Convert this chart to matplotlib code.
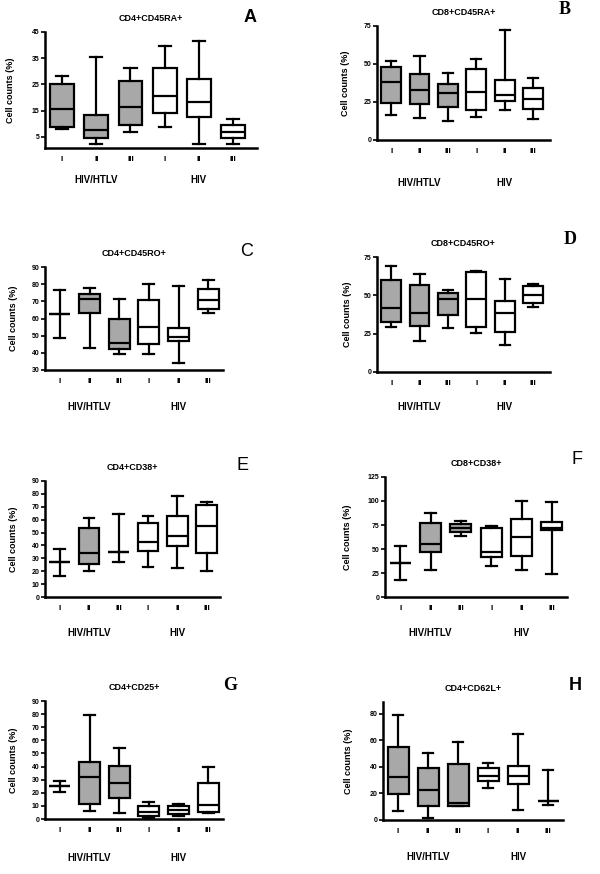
# Box plots of T cell subsets, HIV/HTLV vs HIV groups (panels A-H)
import matplotlib
matplotlib.use("Agg")
import matplotlib.pyplot as plt

# each row: [min, q1, median, q3, max] for boxes I, II, III (HIV/HTLV) then I, II, III (HIV)
cd4_cd45ra = [[8.2, 8.9, 15.6, 25.1, 28.2], [2.2, 4.7, 7.7, 13.4, 35.3], [6.8, 9.4, 16.5, 26.3, 31.1],
              [8.9, 14.2, 20.7, 31.1, 39.6], [2.2, 12.7, 18.2, 27.0, 41.6], [2.2, 4.7, 6.8, 9.4, 12.0]]
cd8_cd45ra = [[16.4, 24.5, 37.9, 48.1, 51.9], [14.7, 23.6, 32.8, 43.1, 55.1], [12.5, 21.9, 30.6, 36.8, 43.8],
              [15.3, 19.7, 31.3, 46.6, 53.0], [19.7, 25.8, 29.5, 39.8, 72.2], [13.8, 20.1, 26.9, 34.4, 40.5]]
cd4_cd45ro = [[48.9, 62.6, 62.6, 62.6, 76.4], [43.0, 63.4, 71.5, 74.2, 77.7], [39.4, 42.0, 45.7, 59.9, 71.5],
              [39.4, 45.3, 55.1, 70.9, 80.1], [33.9, 46.7, 49.3, 54.2, 78.7], [63.0, 65.4, 70.5, 77.3, 82.3]]
cd8_cd45ro = [[29.5, 32.8, 41.6, 59.7, 69.4], [20.1, 30.2, 38.3, 56.9, 63.9], [28.4, 37.2, 47.5, 51.4, 53.2],
              [25.2, 29.1, 47.5, 65.0, 66.1], [17.5, 25.8, 38.3, 46.6, 60.8], [42.7, 45.3, 49.9, 56.2, 57.3]]
cd4_cd38 = [[16.0, 26.8, 26.8, 26.8, 37.1], [19.8, 25.8, 34.5, 53.4, 61.1], [26.8, 35.3, 35.3, 35.3, 64.2],
            [23.0, 35.9, 42.9, 57.2, 63.1], [22.2, 39.6, 47.6, 62.8, 78.4], [20.4, 34.0, 55.2, 71.4, 74.0]]
cd8_cd38 = [[18.2, 35.6, 35.6, 35.6, 53.1], [28.6, 46.4, 55.2, 76.8, 88.0], [63.5, 68.1, 71.6, 76.1, 79.6],
            [32.1, 41.2, 47.1, 71.6, 74.0], [28.6, 42.6, 62.8, 81.4, 99.5], [24.4, 69.8, 72.3, 78.6, 98.5]]
cd4_cd25 = [[20.9, 25.2, 25.2, 25.2, 29.3], [6.1, 11.5, 32.3, 43.3, 79.4], [4.8, 16.3, 27.7, 40.7, 54.5],
            [1.0, 2.5, 5.6, 9.9, 12.7], [2.5, 3.8, 6.9, 10.2, 11.2], [4.3, 5.6, 10.7, 27.2, 39.9]]
cd4_cd62l = [[6.8, 19.6, 32.2, 55.3, 79.2], [1.3, 10.6, 22.6, 39.5, 50.3], [10.6, 10.6, 12.6, 42.0, 58.6],
             [24.4, 29.4, 33.5, 39.0, 42.8], [7.5, 26.9, 33.5, 41.0, 64.7], [11.3, 14.3, 14.3, 14.3, 37.7]]

titles = ["CD4+CD45RA+", "CD8+CD45RA+", "CD4+CD45RO+", "CD8+CD45RO+",
          "CD4+CD38+", "CD8+CD38+", "CD4+CD25+", "CD4+CD62L+"]
letters = ["A", "B", "C", "D", "E", "F", "G", "H"]
panels = [cd4_cd45ra, cd8_cd45ra, cd4_cd45ro, cd8_cd45ro, cd4_cd38, cd8_cd38, cd4_cd25, cd4_cd62l]
tick_labels = ["I", "II", "III", "I", "II", "III"]
groups = ["HIV/HTLV", "HIV"]
yticks = [[5, 15, 25, 35, 45], [0, 25, 50, 75], list(range(30, 91, 10)), [0, 25, 50, 75],
          list(range(0, 91, 10)), [0, 25, 50, 75, 100, 125], list(range(0, 91, 10)), [0, 20, 40, 60, 80]]
ylims = [(0.8, 45), (0, 75), (30, 90), (0, 75), (0, 90), (0, 125), (0, 90), (0, 89)]

# layout in pixels: axes (left, top, right, bottom), letter (x, y), group label offset, ylabel offset
rects = [(45, 32, 257, 148), (377, 26, 550, 140), (45, 267, 223, 370), (377, 257, 550, 372),
         (45, 481, 220, 597), (385, 477, 567, 597), (45, 701, 223, 819), (383, 702, 563, 820)]
xmaxs = [6.7, 6.6, 6.5, 6.6, 6.45, 6.5, 6.5, 6.5]
letter_pos = [(250, 17), (565, 9), (247, 252), (570, 239), (242, 465), (577, 460), (230, 686), (575, 686)]
letter_font = [("Liberation Sans", "bold"), ("Liberation Serif", "bold"), ("Liberation Sans", "normal"),
               ("Liberation Serif", "bold"), ("Liberation Sans", "normal"), ("Liberation Sans", "normal"),
               ("Liberation Serif", "bold"), ("Liberation Sans", "bold")]
group_off = [32, 43, 37, 35, 36, 36, 39, 37]
ylab_off = [30, 27, 27, 25, 27, 33, 27, 30]

W, H = 600, 874
plt.rcParams['font.family'] = ['Liberation Sans', 'DejaVu Sans']
fig = plt.figure(figsize=(W / 100, H / 100), dpi=100)
fig.patch.set_facecolor("white")

fills = ["#a8a8a8"] * 3 + ["white"] * 3
lw = 1.6

for i, data in enumerate(panels):
    l, t, r, b = rects[i]
    ax = fig.add_axes([l / W, 1 - b / H, (r - l) / W, (b - t) / H])
    stats = []
    for j, row in enumerate(data):
        stats.append({"whislo": row[0], "q1": row[1], "med": row[2], "q3": row[3], "whishi": row[4], "fliers": []})
    bp = ax.bxp(stats, positions=range(1, 7), widths=0.7, capwidths=0.36, patch_artist=True,
                boxprops=dict(linewidth=lw, edgecolor="black"),
                whiskerprops=dict(linewidth=lw, color="black"),
                capprops=dict(linewidth=lw, color="black"),
                medianprops=dict(linewidth=lw, color="black"))
    for patch, c in zip(bp["boxes"], fills):
        patch.set_facecolor(c)

    ax.set_xlim(0.5, xmaxs[i])
    ax.set_ylim(*ylims[i])
    ax.set_yticks(yticks[i])
    ax.set_yticklabels([str(v) for v in yticks[i]], fontsize=5, fontweight="bold")
    ax.set_xticks(range(1, 7))
    ax.set_xticklabels(tick_labels, fontsize=6, fontweight="bold")
    ax.tick_params(axis="x", length=0, pad=6)
    ax.tick_params(axis="y", length=3, width=1.2, pad=1)
    for s in ["top", "right"]:
        ax.spines[s].set_visible(False)
    for s in ["left", "bottom"]:
        ax.spines[s].set_linewidth(1.8)

    ax.set_title(titles[i], fontsize=6.5, fontweight="bold", pad=8)
    ax.set_ylabel("Cell counts (%)", fontsize=6.5, fontweight="bold")
    ax.yaxis.set_label_coords(-ylab_off[i] / (r - l), 0.5)

    yoff = -group_off[i] / (b - t)
    for gx, g in zip([2, 5], groups):
        ax.text(gx, yoff, g, transform=ax.get_xaxis_transform(), ha="center", va="center",
                fontsize=7, fontweight="bold")

    lx, ly = letter_pos[i]
    fam, wt = letter_font[i]
    fig.text(lx / W, 1 - ly / H, letters[i], ha="center", va="center", fontsize=13,
             family=fam, fontweight=wt)

fig.savefig("out.png", dpi=100, facecolor="white")
